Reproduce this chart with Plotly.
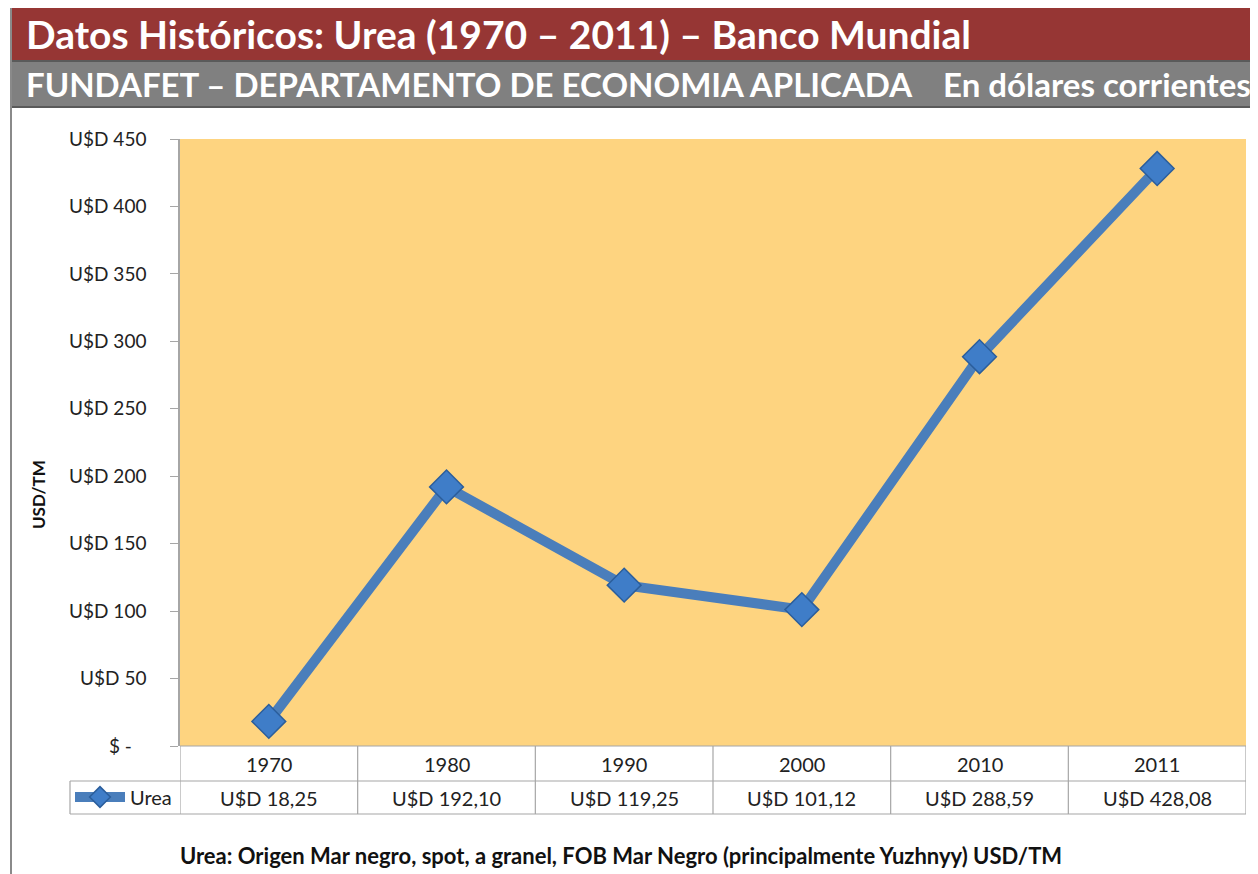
import plotly.graph_objects as go

years = ["1970", "1980", "1990", "2000", "2010", "2011"]
urea = [18.25, 192.10, 119.25, 101.12, 288.59, 428.08]
value_labels = ["U$D 18,25", "U$D 192,10", "U$D 119,25", "U$D 101,12", "U$D 288,59", "U$D 428,08"]
ytick_vals = [0, 50, 100, 150, 200, 250, 300, 350, 400, 450]
ytick_text = ["$ -\u00a0\u00a0\u00a0", "U$D 50", "U$D 100", "U$D 150", "U$D 200", "U$D 250",
              "U$D 300", "U$D 350", "U$D 400", "U$D 450"]

# page body has an 8px margin; figure occupies 8..1258 x 8..874 of the window
OFF = 8
W, H = 1258 - OFF, 874 - OFF
FONT = "Lato"

def px_x(x):
    return (x - OFF) / W

def px_y(y):
    return (H - (y - OFF)) / H

fig = go.Figure()
fig.add_trace(go.Scatter(
    x=years, y=urea, mode="lines+markers", name="Urea",
    line=dict(color="#4A7EBB", width=10),
    marker=dict(symbol="diamond", size=26, color="#3F7DC8",
                line=dict(color="#2B5E9C", width=1.5)),
))

PX0, PX1 = 180, 1246
PY_TOP, PY_BOT = 139, 746
ROW1, ROW2 = 781, 814

fig.update_layout(
    width=W, height=H,
    margin=dict(l=0, r=0, t=0, b=0, autoexpand=False),
    paper_bgcolor="white",
    plot_bgcolor="#FED480",
    font=dict(family=FONT, color="#222222"),
    showlegend=True,
    legend=dict(x=px_x(70), y=px_y(797), xanchor="left", yanchor="middle",
                bgcolor="rgba(0,0,0,0)", font=dict(size=20, family=FONT, color="#222"),
                itemwidth=50, tracegroupgap=0),
    xaxis=dict(domain=[px_x(PX0), px_x(PX1)], type="category", range=[-0.5, 5.5],
               showticklabels=False, showgrid=False, zeroline=False, showline=False,
               automargin=False, fixedrange=True),
    yaxis=dict(domain=[px_y(PY_BOT), px_y(PY_TOP)], range=[0, 450], automargin=False,
               tickvals=ytick_vals, ticktext=ytick_text, showgrid=False, zeroline=False,
               showline=True, linecolor="#A6A6A6", linewidth=1.5,
               ticks="outside", ticklen=8, tickcolor="#A6A6A6", ticklabelstandoff=20,
               tickfont=dict(size=19, family=FONT, color="#222")),
)

shapes = []
# Title bars
shapes.append(dict(type="rect", xref="paper", yref="paper", x0=px_x(10), x1=1,
                   y0=px_y(60), y1=px_y(8), fillcolor="#963634", line=dict(width=0), layer="below"))
shapes.append(dict(type="rect", xref="paper", yref="paper", x0=px_x(10), x1=1,
                   y0=px_y(106), y1=px_y(62), fillcolor="#808080", line=dict(width=0), layer="below"))
shapes.append(dict(type="line", xref="paper", yref="paper", x0=px_x(10), x1=1,
                   y0=px_y(61), y1=px_y(61), line=dict(color="#5a5a5a", width=2)))
shapes.append(dict(type="line", xref="paper", yref="paper", x0=px_x(10), x1=1,
                   y0=px_y(107), y1=px_y(107), line=dict(color="#5a5a5a", width=2)))
# left border
shapes.append(dict(type="line", xref="paper", yref="paper", x0=px_x(11), x1=px_x(11),
                   y0=0, y1=px_y(8), line=dict(color="#8a8a8a", width=2)))

grid = dict(color="#A6A6A6", width=1.2)
# table lines
shapes.append(dict(type="line", xref="paper", yref="paper", x0=px_x(PX0), x1=px_x(PX1),
                   y0=px_y(PY_BOT), y1=px_y(PY_BOT), line=grid))
for yy in (ROW1, ROW2):
    shapes.append(dict(type="line", xref="paper", yref="paper", x0=px_x(70), x1=px_x(PX1),
                       y0=px_y(yy), y1=px_y(yy), line=grid))
shapes.append(dict(type="line", xref="paper", yref="paper", x0=px_x(70), x1=px_x(70),
                   y0=px_y(ROW2), y1=px_y(ROW1), line=grid))
for i in range(len(years) + 1):
    shapes.append(dict(type="line", xref="x", yref="paper", x0=i - 0.5, x1=i - 0.5,
                       y0=px_y(ROW2), y1=px_y(PY_BOT), line=grid))
fig.update_layout(shapes=shapes)

ann = []
ann.append(dict(text="<b>Datos Históricos: Urea (1970 – 2011) – Banco Mundial</b>",
                xref="paper", yref="paper", x=px_x(24), y=px_y(34), xanchor="left", yanchor="middle",
                showarrow=False, font=dict(size=39, family=FONT, color="white")))
ann.append(dict(text="<b>FUNDAFET – DEPARTAMENTO DE ECONOMIA APLICADA\u00a0\u00a0\u00a0\u00a0En dólares corrientes</b>",
                xref="paper", yref="paper", x=px_x(24), y=px_y(84), xanchor="left", yanchor="middle",
                showarrow=False, font=dict(size=33, family=FONT, color="white")))
ann.append(dict(text="<b>USD/TM</b>", xref="paper", yref="paper", x=px_x(38), y=px_y(495),
                xanchor="center", yanchor="middle", textangle=-90, showarrow=False,
                font=dict(size=17, family=FONT, color="#111")))
for i, (yr, lab) in enumerate(zip(years, value_labels)):
    ann.append(dict(text=yr, xref="x", yref="paper", x=i, y=px_y(764), xanchor="center",
                    yanchor="middle", showarrow=False, font=dict(size=20, family=FONT, color="#222")))
    ann.append(dict(text=lab, xref="x", yref="paper", x=i, y=px_y(798), xanchor="center",
                    yanchor="middle", showarrow=False, font=dict(size=20, family=FONT, color="#222")))
ann.append(dict(text="<b>Urea: Origen Mar negro, spot, a granel, FOB Mar Negro (principalmente Yuzhnyy) USD/TM</b>",
                xref="paper", yref="paper", x=px_x(621), y=px_y(855), xanchor="center", yanchor="middle",
                showarrow=False, font=dict(size=22, family=FONT, color="#111")))
fig.update_layout(annotations=ann)

fig.write_html("out.html")
